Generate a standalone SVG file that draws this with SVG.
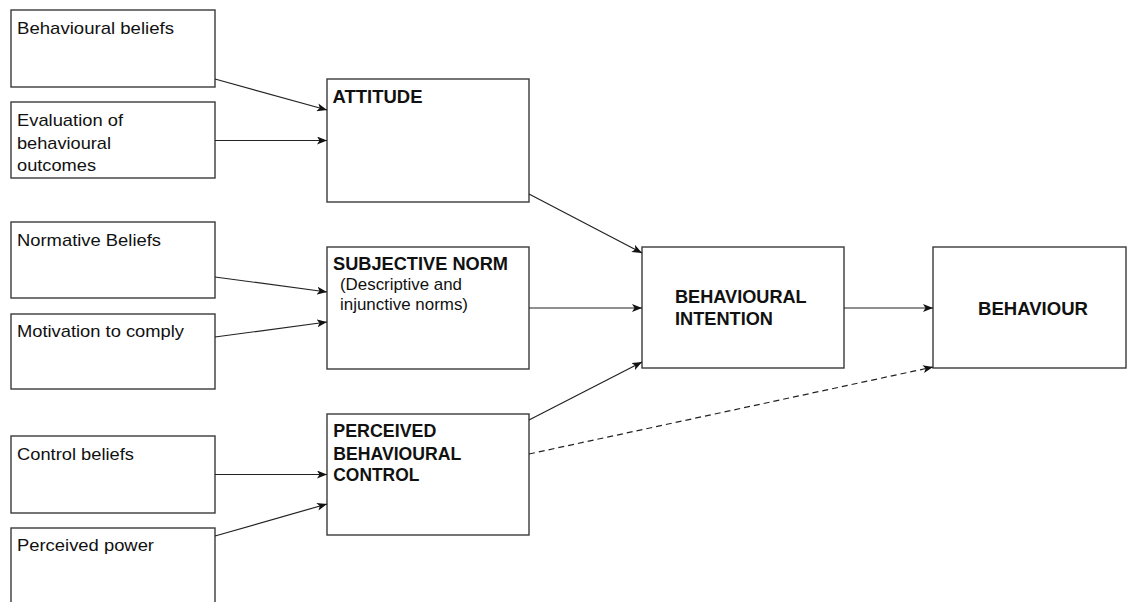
<svg xmlns="http://www.w3.org/2000/svg" width="1128" height="602" viewBox="0 0 1128 602">
<style>
.box{fill:#fff;stroke:#3a3a3a;stroke-width:1.4}
.t{font-family:"Liberation Sans",Arial,sans-serif;font-size:17px;fill:#111}
.b{font-family:"Liberation Sans",Arial,sans-serif;font-size:17.5px;font-weight:bold;fill:#111}
.c{stroke:#222;stroke-width:1.2;fill:none}
.d{stroke-dasharray:6,4}
</style>
<defs>
<marker id="ah" viewBox="0 0 10 8" refX="10" refY="4" markerWidth="10" markerHeight="8" markerUnits="userSpaceOnUse" orient="auto">
<path d="M0,0 L10,4 L0,8 L2.5,4 Z" fill="#111"/>
</marker>
</defs>
<rect width="1128" height="602" fill="#fff"/>
<g id="n-behavioural-beliefs"><rect class="box" x="11" y="10" width="204" height="77"/><text class="t" x="17" y="34" textLength="157" lengthAdjust="spacingAndGlyphs">Behavioural beliefs</text></g>
<g id="n-evaluation"><rect class="box" x="11" y="102" width="204" height="76"/><text class="t" x="17" y="126" textLength="106" lengthAdjust="spacingAndGlyphs">Evaluation of</text><text class="t" x="17" y="148.5" textLength="94" lengthAdjust="spacingAndGlyphs">behavioural</text><text class="t" x="17" y="171" textLength="79" lengthAdjust="spacingAndGlyphs">outcomes</text></g>
<g id="n-normative"><rect class="box" x="11" y="222" width="204" height="76"/><text class="t" x="17" y="246" textLength="144" lengthAdjust="spacingAndGlyphs">Normative Beliefs</text></g>
<g id="n-motivation"><rect class="box" x="11" y="314" width="204" height="75"/><text class="t" x="17" y="337" textLength="167" lengthAdjust="spacingAndGlyphs">Motivation to comply</text></g>
<g id="n-control-beliefs"><rect class="box" x="11" y="436" width="204" height="77"/><text class="t" x="17" y="459.5" textLength="117" lengthAdjust="spacingAndGlyphs">Control beliefs</text></g>
<g id="n-perceived-power"><rect class="box" x="11" y="528" width="204" height="80"/><text class="t" x="17" y="551" textLength="137" lengthAdjust="spacingAndGlyphs">Perceived power</text></g>
<g id="n-attitude"><rect class="box" x="327" y="79" width="202" height="123"/><text class="b" x="332.5" y="102.7" textLength="90" lengthAdjust="spacingAndGlyphs">ATTITUDE</text></g>
<g id="n-subjective-norm"><rect class="box" x="327" y="247" width="202" height="122"/><text class="b" x="333" y="270" textLength="175" lengthAdjust="spacingAndGlyphs">SUBJECTIVE NORM</text><text class="t" x="340" y="289.5" textLength="122" lengthAdjust="spacingAndGlyphs">(Descriptive and</text><text class="t" x="340" y="309.5" textLength="128" lengthAdjust="spacingAndGlyphs">injunctive norms)</text></g>
<g id="n-pbc"><rect class="box" x="327" y="414" width="202" height="121"/><text class="b" x="333.3" y="437.3" textLength="103" lengthAdjust="spacingAndGlyphs">PERCEIVED</text><text class="b" x="333.3" y="459.5" textLength="128" lengthAdjust="spacingAndGlyphs">BEHAVIOURAL</text><text class="b" x="333.3" y="480.7" textLength="86" lengthAdjust="spacingAndGlyphs">CONTROL</text></g>
<g id="n-intention"><rect class="box" x="642" y="247" width="202" height="121"/><text class="b" x="675" y="303.3" textLength="131.7" lengthAdjust="spacingAndGlyphs">BEHAVIOURAL</text><text class="b" x="675" y="325" textLength="98" lengthAdjust="spacingAndGlyphs">INTENTION</text></g>
<g id="n-behaviour"><rect class="box" x="933" y="247" width="193" height="121"/><text class="b" x="978" y="315" textLength="110" lengthAdjust="spacingAndGlyphs">BEHAVIOUR</text></g>
<g id="connectors">
<line class="c" x1="215" y1="79" x2="327" y2="110" marker-end="url(#ah)"/>
<line class="c" x1="215" y1="140.5" x2="327" y2="140.5" marker-end="url(#ah)"/>
<line class="c" x1="215" y1="277" x2="327" y2="292" marker-end="url(#ah)"/>
<line class="c" x1="215" y1="337" x2="327" y2="322" marker-end="url(#ah)"/>
<line class="c" x1="215" y1="474.5" x2="327" y2="474.5" marker-end="url(#ah)"/>
<line class="c" x1="215" y1="536" x2="327" y2="504" marker-end="url(#ah)"/>
<line class="c" x1="529" y1="194" x2="642" y2="253" marker-end="url(#ah)"/>
<line class="c" x1="529" y1="308" x2="642" y2="308" marker-end="url(#ah)"/>
<line class="c" x1="529" y1="420" x2="642" y2="362" marker-end="url(#ah)"/>
<line class="c" x1="844" y1="308" x2="933" y2="308" marker-end="url(#ah)"/>
<line class="c d" x1="529" y1="454" x2="933" y2="367" marker-end="url(#ah)"/>
</g>
</svg>
